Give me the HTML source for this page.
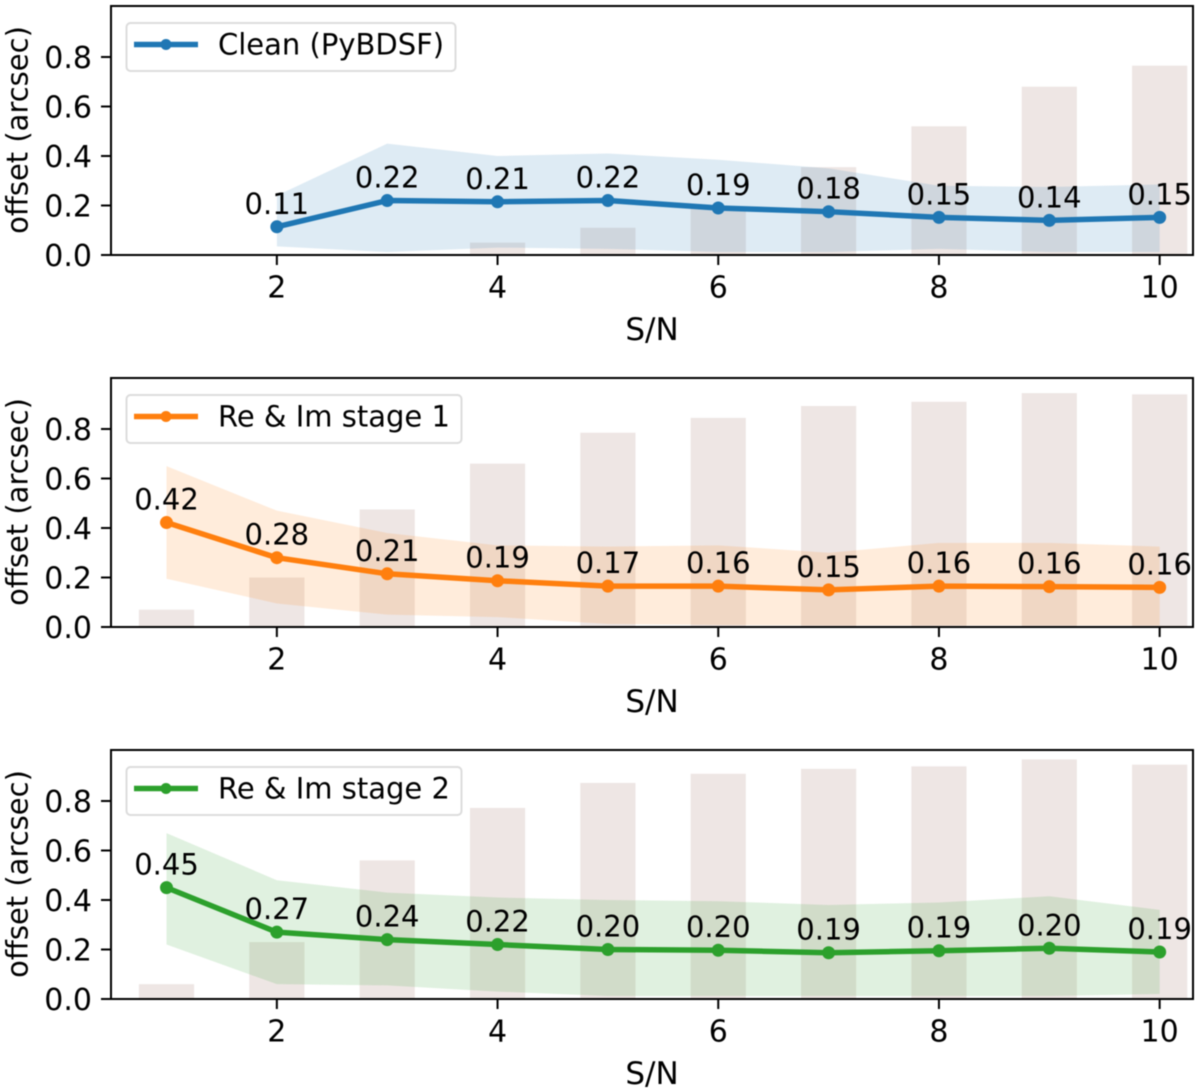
<!DOCTYPE html>
<html lang="en">
<head>
<meta charset="utf-8">
<title>Positional offset vs S/N</title>
<style>
html,body{margin:0;padding:0;background:#fff;}
svg{display:block;filter:blur(0.5px);}
text{font-family:"DejaVu Sans","Liberation Sans",sans-serif;fill:#000;}
</style>
</head>
<body>
<svg id="chart" xmlns="http://www.w3.org/2000/svg" width="1200" height="1092" viewBox="0 0 1200 1092"></svg>
<script>
const snCategories = [1, 2, 3, 4, 5, 6, 7, 8, 9, 10];
const xTickValues = [2, 4, 6, 8, 10];
const yTickValues = [0.0, 0.2, 0.4, 0.6, 0.8];
const xAxisTitle = "S/N";
const yAxisTitle = "offset (arcsec)";

const cleanLabel = "Clean (PyBDSF)";
const cleanBars = [0, 0, 0.004, 0.05, 0.11, 0.195, 0.355, 0.52, 0.68, 0.765];
const cleanLine = [null, 0.114, 0.22, 0.215, 0.22, 0.19, 0.175, 0.152, 0.14, 0.152];
const cleanUpper = [null, 0.24, 0.45, 0.40, 0.41, 0.385, 0.35, 0.28, 0.275, 0.285];
const cleanLower = [null, 0.035, 0.012, 0.03, 0.025, 0.012, 0.012, 0.025, 0.012, 0.012];
const cleanPrinted = ["", "0.11", "0.22", "0.21", "0.22", "0.19", "0.18", "0.15", "0.14", "0.15"];

const stage1Label = "Re & Im stage 1";
const stage1Bars = [0.07, 0.2, 0.475, 0.66, 0.785, 0.845, 0.893, 0.91, 0.945, 0.94];
const stage1Line = [0.422, 0.28, 0.215, 0.187, 0.165, 0.165, 0.15, 0.165, 0.163, 0.16];
const stage1Upper = [0.65, 0.47, 0.38, 0.33, 0.325, 0.33, 0.30, 0.34, 0.34, 0.325];
const stage1Lower = [0.195, 0.095, 0.05, 0.04, 0.012, 0.008, 0.006, 0.006, 0.006, 0.006];
const stage1Printed = ["0.42", "0.28", "0.21", "0.19", "0.17", "0.16", "0.15", "0.16", "0.16", "0.16"];

const stage2Label = "Re & Im stage 2";
const stage2Bars = [0.06, 0.23, 0.56, 0.772, 0.873, 0.91, 0.93, 0.94, 0.968, 0.947];
const stage2Line = [0.45, 0.27, 0.24, 0.22, 0.2, 0.197, 0.187, 0.195, 0.205, 0.19];
const stage2Upper = [0.67, 0.48, 0.43, 0.41, 0.40, 0.395, 0.38, 0.39, 0.415, 0.36];
const stage2Lower = [0.22, 0.06, 0.055, 0.03, 0.012, 0.012, 0.012, 0.012, 0.012, 0.02];
const stage2Printed = ["0.45", "0.27", "0.24", "0.22", "0.20", "0.20", "0.19", "0.19", "0.20", "0.19"];

const svg = document.getElementById('chart');
const NS = 'http://www.w3.org/2000/svg';
const axLeft = 111, axRight = 1193;

function xScale(v) { return 166.5 + (v - 1) * 110.35; }
function yScale(v, base) { return base - v * 247.5; }

function make(tag, attrs, parent, txt) {
  const el = document.createElementNS(NS, tag);
  for (const k in attrs) el.setAttribute(k, attrs[k]);
  if (txt !== undefined) el.textContent = txt;
  parent.appendChild(el);
  return el;
}

function drawPanel(slug, base, color, label, legendW, bars, line, upper, lower, printed) {
  const top = base - 249;
  const g = make('g', {}, svg);
  
  

  const bg = make('g', {}, g);
  
  
  snCategories.forEach(function (c, i) {
    if (!bars[i]) return;
    const r = make('rect', {
      x: xScale(c - 0.25), y: yScale(bars[i], base),
      width: xScale(c + 0.25) - xScale(c - 0.25), height: base - yScale(bars[i], base),
      fill: '#8c564b', 'fill-opacity': 0.15
    }, bg);
    
    
  });

  const up = [], lo = [], pts = [];
  snCategories.forEach(function (c, i) {
    if (line[i] === null) return;
    up.push(xScale(c) + ',' + yScale(upper[i], base));
    lo.unshift(xScale(c) + ',' + yScale(lower[i], base));
    pts.push(xScale(c) + ',' + yScale(line[i], base));
  });
  const band = make('polygon', { points: up.concat(lo).join(' '), fill: color, 'fill-opacity': 0.15 }, g);
  
  

  const pl = make('polyline', { points: pts.join(' '), fill: 'none', stroke: color, 'stroke-width': 5.5, 'stroke-linejoin': 'round' }, g);
  
  

  snCategories.forEach(function (c, i) {
    if (line[i] === null) return;
    const p = make('circle', { cx: xScale(c), cy: yScale(line[i], base), r: 6.5, fill: color }, g);
    
    
    const t = make('text', { x: xScale(c), y: yScale(line[i], base) - 13, 'font-size': 29, 'text-anchor': 'middle' }, g, printed[i]);
    
    
  });

  const frame = make('rect', { x: axLeft, y: top, width: axRight - axLeft, height: base - top, fill: 'none', stroke: '#000', 'stroke-width': 2 }, g);
  
  

  xTickValues.forEach(function (v) {
    const tk = make('line', { x1: xScale(v), x2: xScale(v), y1: base, y2: base + 10, stroke: '#000', 'stroke-width': 2 }, g);
    
    
    const tl = make('text', { x: xScale(v), y: base + 42.5, 'font-size': 30, 'text-anchor': 'middle' }, g, String(v));
    
    
  });
  yTickValues.forEach(function (v) {
    const tk = make('line', { x1: axLeft - 10, x2: axLeft, y1: yScale(v, base), y2: yScale(v, base), stroke: '#000', 'stroke-width': 2 }, g);
    
    
    const tl = make('text', { x: 92, y: yScale(v, base) + 11, 'font-size': 30, 'text-anchor': 'end' }, g, v.toFixed(1));
    
    
  });

  const xt = make('text', { x: 652, y: base + 85, 'font-size': 31, 'text-anchor': 'middle' }, g, xAxisTitle);
  
  
  const yt = make('text', { x: 0, y: 0, 'font-size': 29, 'text-anchor': 'middle', transform: 'translate(27.5,' + (base - 125) + ') rotate(-90)' }, g, yAxisTitle);
  
  

  const lg = make('g', {}, g);
  
  
  const box = make('rect', { x: 126.5, y: top + 17, width: legendW, height: 48, rx: 4, fill: '#fff', 'fill-opacity': 0.8, stroke: '#dcdcdc', 'stroke-width': 2 }, lg);
  
  
  const ls = make('line', { x1: 134, x2: 198, y1: top + 38.5, y2: top + 38.5, stroke: color, 'stroke-width': 5.5 }, lg);
  
  
  const lm = make('circle', { cx: 166, cy: top + 38.5, r: 5.5, fill: color }, lg);
  
  
  const lt = make('text', { x: 218, y: top + 48.5, 'font-size': 29 }, lg, label);
  
  
}

drawPanel('clean', 255, '#1f77b4', cleanLabel, 329, cleanBars, cleanLine, cleanUpper, cleanLower, cleanPrinted);
drawPanel('stage-1', 627, '#ff7f0e', stage1Label, 335, stage1Bars, stage1Line, stage1Upper, stage1Lower, stage1Printed);
drawPanel('stage-2', 999, '#2ca02c', stage2Label, 335, stage2Bars, stage2Line, stage2Upper, stage2Lower, stage2Printed);
</script>
</body>
</html>
